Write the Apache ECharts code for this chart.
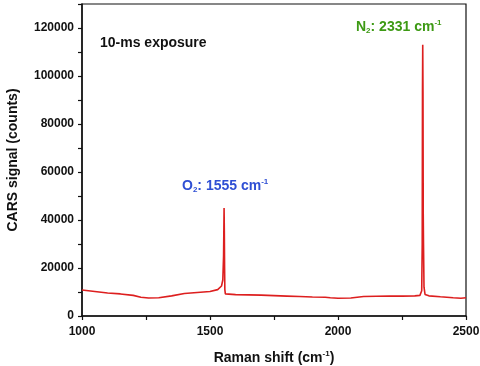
<!DOCTYPE html>
<html>
<head>
<meta charset="utf-8">
<script src="https://cdn.jsdelivr.net/npm/echarts@6/dist/echarts.min.js"></script>
<style>
  html, body { margin: 0; padding: 0; background: #fff; }
  #chart { width: 480px; height: 366px; }
</style>
</head>
<body>
<div id="chart"></div>
<script>
// Raman shift (cm-1) and CARS signal (counts)
const ramanShift = [
    1000, 1050, 1100, 1150, 1200, 1230, 1260, 1300, 1350, 1400, 1450, 1500, 1530,
    1545, 1550, 1553, 1554, 1555, 1556, 1557, 1558, 1560, 1565, 1600, 1650, 1700,
    1750, 1800, 1850, 1900, 1950, 1970, 2000, 2050, 2100, 2150, 2200, 2250, 2300,
    2320, 2327, 2329, 2330, 2331, 2332, 2333, 2334, 2336, 2340, 2355, 2400, 2450,
    2480, 2500
];
const signal = [
    10800, 10200, 9600, 9200, 8600, 7800, 7500, 7600, 8400, 9400, 9800, 10200, 11000,
    12500, 15000, 25000, 35000, 45000, 35000, 20000, 11000, 9200, 8900, 8900, 8800, 8700,
    8500, 8300, 8100, 7900, 7800, 7600, 7400, 7500, 8100, 8200, 8300, 8300, 8400,
    8600, 10500, 30000, 93000, 113000, 93000, 42000, 30000, 12000, 9000, 8400, 8000, 7600,
    7400, 7600
];

const yTicks = [0, 20000, 40000, 60000, 80000, 100000, 120000];

const chart = echarts.init(document.getElementById('chart'));

const font = 'Liberation Sans, Arial, sans-serif';

chart.setOption({
    animation: false,
    grid: {
        left: 82,
        right: 14,
        top: 4,
        bottom: 50,
        outerBoundsMode: 'none',
        show: true,
        borderColor: '#111',
        borderWidth: 1.2,
        backgroundColor: 'transparent'
    },
    xAxis: {
        type: 'value',
        min: 1000,
        max: 2500,
        interval: 500,
        name: '{t|Raman shift (cm}{s|-1}{t|)}',
        nameLocation: 'middle',
        nameGap: 34,
        nameTextStyle: {
            rich: {
                t: { fontFamily: font, fontWeight: 'bold', fontSize: 14, color: '#111' },
                s: { fontFamily: font, fontWeight: 'bold', fontSize: 8, color: '#111', verticalAlign: 'top', padding: [0, 0, 8, 0] }
            }
        },
        axisLine: { lineStyle: { color: '#111', width: 1.5 } },
        axisTick: { show: true, inside: false, length: 4, lineStyle: { color: '#111', width: 1.2 } },
        minorTick: { show: true, splitNumber: 2, length: 4, lineStyle: { color: '#111', width: 1.2 } },
        axisLabel: {
            fontFamily: font, fontWeight: 'bold', fontSize: 12, color: '#111', margin: 10,
            formatter: function (v) { return String(v); }
        },
        splitLine: { show: false }
    },
    yAxis: {
        type: 'value',
        min: 0,
        max: 130000,
        interval: 20000,
        name: 'CARS signal (counts)',
        nameLocation: 'middle',
        nameGap: 62,
        nameTextStyle: { fontFamily: font, fontWeight: 'bold', fontSize: 14, color: '#111' },
        axisLine: { show: true, lineStyle: { color: '#111', width: 1.5 } },
        axisTick: { show: true, inside: false, length: 4, lineStyle: { color: '#111', width: 1.2 } },
        minorTick: { show: true, splitNumber: 2, length: 4, lineStyle: { color: '#111', width: 1.2 } },
        axisLabel: {
            fontFamily: font, fontWeight: 'bold', fontSize: 12, color: '#111', margin: 8,
            showMaxLabel: false,
            formatter: function (v) { return yTicks.indexOf(v) >= 0 ? String(v) : ''; }
        },
        splitLine: { show: false }
    },
    series: [{
        type: 'line',
        data: ramanShift.map((x, i) => [x, signal[i]]),
        showSymbol: false,
        lineStyle: { color: '#dd1f1f', width: 1.6 },
        silent: true
    }],
    graphic: [
        {
            type: 'text', left: 100, top: 36,
            style: { text: '10-ms exposure', fontFamily: font, fontWeight: 'bold', fontSize: 14, fill: '#111' }
        },
        {
            type: 'text', left: 182, top: 178,
            style: {
                text: '{t|O}{b|2}{t|: 1555 cm}{s|-1}',
                rich: {
                    t: { fontFamily: font, fontWeight: 'bold', fontSize: 14, fill: '#2f4fd4' },
                    b: { fontFamily: font, fontWeight: 'bold', fontSize: 8, fill: '#2f4fd4', verticalAlign: 'bottom', padding: [6, 0, 0, 0] },
                    s: { fontFamily: font, fontWeight: 'bold', fontSize: 8, fill: '#2f4fd4', verticalAlign: 'top', padding: [0, 0, 8, 0] }
                }
            }
        },
        {
            type: 'text', left: 356, top: 19,
            style: {
                text: '{t|N}{b|2}{t|: 2331 cm}{s|-1}',
                rich: {
                    t: { fontFamily: font, fontWeight: 'bold', fontSize: 14, fill: '#3d9a14' },
                    b: { fontFamily: font, fontWeight: 'bold', fontSize: 8, fill: '#3d9a14', verticalAlign: 'bottom', padding: [6, 0, 0, 0] },
                    s: { fontFamily: font, fontWeight: 'bold', fontSize: 8, fill: '#3d9a14', verticalAlign: 'top', padding: [0, 0, 8, 0] }
                }
            }
        }
    ]
});

window.addEventListener('resize', function () {
    chart.resize();
});
</script>
</body>
</html>
